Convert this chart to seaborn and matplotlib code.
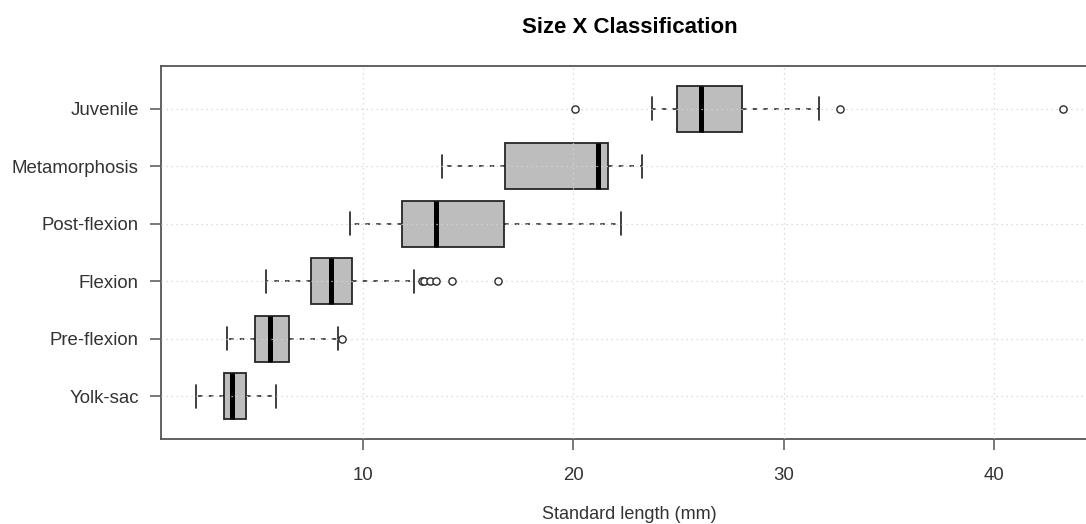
import matplotlib
matplotlib.use("Agg")
import matplotlib.pyplot as plt
import pandas as pd
import seaborn as sns

# Larval stages, listed top to bottom
stages = ["Juvenile", "Metamorphosis", "Post-flexion", "Flexion", "Pre-flexion", "Yolk-sac"]

# Five-number summaries of standard length (mm) per stage
whisker_low = [23.76, 13.78, 9.38, 5.40, 3.55, 2.07]
lower_quartile = [24.94, 16.74, 11.85, 7.53, 4.87, 3.42]
median_length = [26.06, 21.19, 13.48, 8.48, 5.60, 3.77]
upper_quartile = [27.99, 21.65, 16.69, 9.51, 6.52, 4.47]
whisker_high = [31.68, 23.24, 22.29, 12.42, 8.83, 5.86]

# Individual points beyond the whiskers
outlier_stage = ["Juvenile", "Juvenile", "Juvenile",
                 "Flexion", "Flexion", "Flexion", "Flexion", "Flexion", "Flexion",
                 "Pre-flexion"]
outlier_length = [20.06, 32.66, 43.27,
                  12.83, 12.90, 13.18, 13.47, 14.24, 16.43,
                  9.02]

x_ticks = [10, 20, 30, 40]

# Each stage contributes its five summary values; with whiskers at the
# 0th/100th percentile the box statistics reproduce them exactly.
rows = []
for i, stage in enumerate(stages):
    for v in (whisker_low[i], lower_quartile[i], median_length[i],
              upper_quartile[i], whisker_high[i]):
        rows.append({"stage": stage, "length": v})
summary = pd.DataFrame(rows)
outliers = pd.DataFrame({"stage": outlier_stage, "length": outlier_length})

sns.set_theme(style="white")
plt.rcParams["font.family"] = ["Liberation Sans", "DejaVu Sans"]

fig = plt.figure(figsize=(10.86, 5.24), dpi=100)
ax = fig.add_axes([0.14825, 0.1622, 0.8628, 0.7118])

edge = "#262626"
sns.boxplot(
    data=summary, x="length", y="stage", order=stages,
    whis=(0, 100), width=0.8, color="#BDBDBD", saturation=1,
    linecolor=edge, linewidth=1.3, showfliers=False,
    boxprops=dict(edgecolor=edge, linewidth=1.3),
    medianprops=dict(color="black", linewidth=3.6),
    whiskerprops=dict(color="#1e1e1e", linestyle=(0, (3, 4)), linewidth=1.1),
    capprops=dict(color="#1e1e1e", linewidth=1.2),
    ax=ax,
)

sns.stripplot(
    data=outliers, x="length", y="stage", order=stages,
    jitter=False, color="white", edgecolor="#2b2b2b", linewidth=1.0,
    size=5.2, ax=ax,
)
ax.collections[-1].set_facecolor("none")

ax.set_xlim(0.42, 44.92)
ax.set_ylim(5.74, -0.74)
ax.set_xticks(x_ticks)
ax.set_xticklabels([str(t) for t in x_ticks])

ax.grid(True, color="#D3D3D3", linestyle=(0, (1, 3)), linewidth=0.9)
ax.set_axisbelow(False)

for side in ["left", "bottom", "top", "right"]:
    ax.spines[side].set_visible(True)
    ax.spines[side].set_color("#555555")
    ax.spines[side].set_linewidth(1.3)

ax.tick_params(axis="both", direction="out", length=8, width=1.1,
               color="#555555", labelsize=13.4, labelcolor="#333333")
ax.tick_params(axis="x", pad=12.5, bottom=True)
ax.tick_params(axis="y", pad=8, left=True)

ax.set_ylabel("")
ax.set_xlabel("Standard length (mm)", fontsize=13, color="#333333", labelpad=15.5)
ax.set_title("Size X Classification", fontsize=16, fontweight="bold",
             color="black", pad=24)

fig.savefig("out.png", dpi=100)
